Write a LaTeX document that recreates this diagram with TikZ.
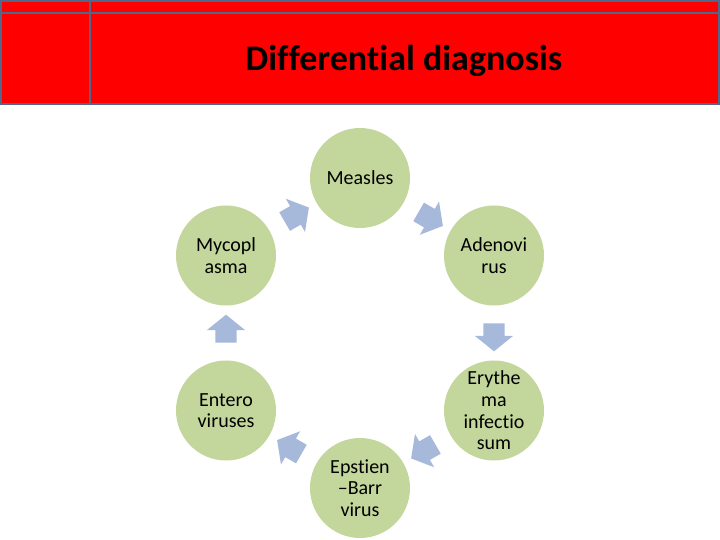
\documentclass[tikz,border=0pt]{standalone}
\usepackage{fontspec}
\setmainfont{Carlito}[Ligatures={NoCommon}]
\usetikzlibrary{shapes.arrows,calc}
\definecolor{hdrred}{RGB}{255,0,0}
\definecolor{hdrline}{RGB}{80,104,140}
\definecolor{circgreen}{RGB}{195,214,155}
\definecolor{arrblue}{RGB}{167,185,218}
\tikzset{
  circ/.style={circle, fill=circgreen, minimum size=100pt, inner sep=0pt, align=center,
    font=\fontsize{20}{21.6}\selectfont},
  blockarrow/.style={single arrow, fill=arrblue, minimum height=28pt, inner xsep=0pt, inner ysep=10.5pt,
    single arrow head extend=8.5pt, single arrow head indent=0pt, single arrow tip angle=102,
    shape border rotate=0},
  hline/.style={draw=hdrline, line width=2.5pt}
}
\begin{document}
\begin{tikzpicture}[x=1pt,y=-1pt]
\useasboundingbox (0,0) rectangle (720,540);
\fill[white] (0,0) rectangle (720,540);
% header
\fill[hdrred] (0,0) rectangle (720,105);
\draw[hline] (1.2,1.2) rectangle (718.8,103.8);
\draw[hline] (1.2,13) -- (718.8,13);
\draw[hline] (90,1.2) -- (90,103.8);
\node[font=\fontsize{36}{40}\selectfont\bfseries, anchor=center] (title) at (404,61) {Differential diagnosis};
% circles
\node[circ] (measles) at (360,178) {Measles};
\node[circ] (adeno) at (494,255.5) {Adenovi\\rus};
\node[circ] (ery) at (494,410.5) {Erythe\\ma\\infectio\\sum};
\node[circ] (ebv) at (360,488) {Epstien\\–Barr\\virus};
\node[circ] (entero) at (226,410.5) {Entero\\viruses};
\node[circ] (myco) at (226,255.5) {Mycopl\\asma};
% arrows
\node[blockarrow, rotate=-30] (a1) at ($(measles)!0.5!(adeno)$) {};
\node[blockarrow, rotate=-90] (a2) at ($(adeno)!0.5!(ery)$) {};
\node[blockarrow, rotate=-150] (a3) at ($(ery)!0.5!(ebv)$) {};
\node[blockarrow, rotate=150] (a4) at ($(ebv)!0.5!(entero)$) {};
\node[blockarrow, rotate=90] (a5) at ($(entero)!0.5!(myco)$) {};
\node[blockarrow, rotate=30] (a6) at ($(myco)!0.5!(measles)$) {};
\end{tikzpicture}
\end{document}
